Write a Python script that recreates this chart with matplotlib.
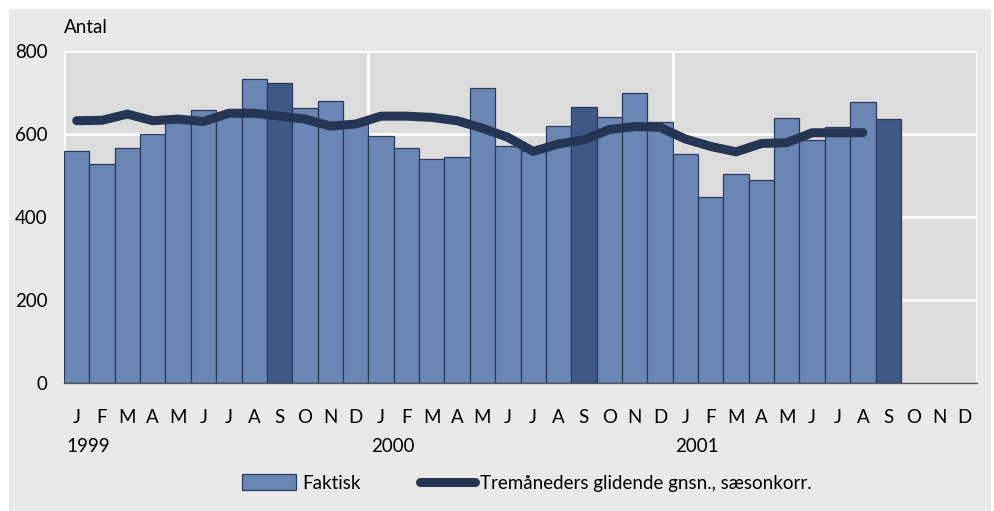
import numpy as np
import matplotlib
matplotlib.use('Agg')
import matplotlib.pyplot as plt
from matplotlib.patches import Rectangle, Patch
from matplotlib.lines import Line2D

plt.rcParams['font.family'] = ['Lato', 'DejaVu Sans']

months = ['J', 'F', 'M', 'A', 'M', 'J', 'J', 'A', 'S', 'O', 'N', 'D'] * 3
years = ['1999', '2000', '2001']

# Faktisk, Jan 1999 - Sep 2001
faktisk = [560, 528, 566, 599, 628, 658, 648, 732, 722, 662, 680, 625,
           596, 566, 539, 544, 712, 571, 560, 619, 664, 642, 700, 630,
           551, 447, 503, 488, 638, 585, 618, 676, 636]
# Tremåneders glidende gennemsnit, sæsonkorrigeret, Jan 1999 - Aug 2001
glidende = [632, 633, 648, 632, 636, 630, 650, 650, 643, 636, 619, 624,
            643, 643, 640, 632, 614, 592, 558, 576, 586, 611, 618, 616,
            588, 570, 557, 577, 579, 603, 603, 603]
dark_months = [8, 20, 32]

bar_col = '#6a86b4'
dark_col = '#3f5885'
edge_col = '#2a3b5c'
line_col = '#253655'
fs = 13.5

fig = plt.figure(figsize=(9.95, 5.11), dpi=100)
fig.patches.append(Rectangle((9 / 995, 0), 982 / 995, 502 / 511,
                             transform=fig.transFigure, facecolor='#e9e9e9',
                             edgecolor='none', zorder=-10))
ax = fig.add_axes([64 / 995, 128 / 511, 913 / 995, 332 / 511])
ax.set_facecolor('#dcdcdc')

x = np.arange(len(faktisk))
colors = [dark_col if i in dark_months else bar_col for i in x]
ax.bar(x, faktisk, width=1.0, color=colors, edgecolor=edge_col,
       linewidth=0.9, zorder=3)
ax.plot(np.arange(len(glidende)), glidende, color=line_col, lw=6.5,
        solid_capstyle='round', solid_joinstyle='round', zorder=4)

ax.set_xlim(-0.5, 35.5)
ax.set_ylim(0, 800)
ax.set_yticks([0, 200, 400, 600, 800])
for v in [200, 400, 600, 800]:
    ax.axhline(v, color='white', lw=2, zorder=1)
for v in [-0.5, 11.5, 23.5, 35.5]:
    ax.axvline(v, color='white', lw=2, zorder=1)

for s in ['top', 'right', 'left']:
    ax.spines[s].set_visible(False)
ax.spines['bottom'].set_color('#555555')
ax.spines['bottom'].set_linewidth(1.0)
ax.spines['bottom'].set_zorder(5)

ax.set_xticks(np.arange(36))
ax.set_xticklabels(months)
ax.tick_params(axis='both', length=0, labelsize=fs)
ax.tick_params(axis='x', pad=19)
ax.tick_params(axis='y', pad=12)

for i, yr in enumerate(years):
    ax.text(i * 12 - 0.4, -0.19, yr, transform=ax.get_xaxis_transform(),
            ha='left', va='center', fontsize=fs)

ax.text(0, 1.07, 'Antal', transform=ax.transAxes, ha='left', va='center',
        fontsize=fs)

handles = [Patch(facecolor=bar_col, edgecolor=edge_col, linewidth=0.9),
           Line2D([0], [0], color=line_col, lw=6.5, solid_capstyle='round')]
labels = ['Faktisk', 'Tremåneders glidende gnsn., sæsonkorr.']
fig.legend(handles, labels, loc='center', bbox_to_anchor=(527 / 995, 1 - 483 / 511),
           ncol=2, frameon=False, fontsize=fs, handlelength=2.9,
           handleheight=0.95, handletextpad=0.3, columnspacing=3.2)

fig.savefig('out.png', dpi=100)
